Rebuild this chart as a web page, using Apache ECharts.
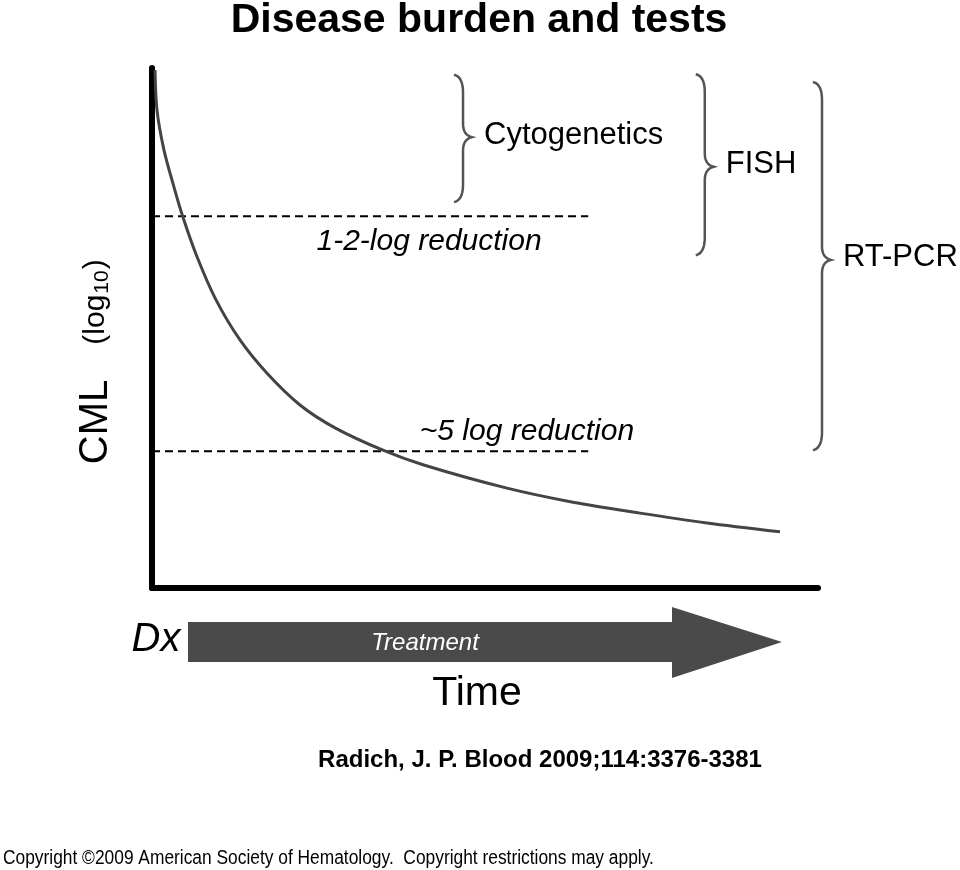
<!DOCTYPE html>
<html><head><meta charset="utf-8">
<script src="https://cdn.jsdelivr.net/npm/echarts@6/dist/echarts.min.js"></script>
<style>html,body{margin:0;padding:0;background:#fff}#c{width:960px;height:870px}</style>
</head><body><div id="c"></div><script>
// Disease burden curve (log10 units, schematic), time in arbitrary units
const curveX = [0.045,0.075,0.18,0.33,0.465,0.676,0.961,1.321,1.727,2.222,2.748,3.468,4.069,5.33,6.321,7.327,8.333,9.429];
const curveY = [9.96,9.19,8.42,7.71,7.13,6.37,5.54,4.77,4.13,3.52,3.08,2.65,2.37,1.92,1.65,1.44,1.25,1.08];
// Reduction thresholds
const thresholdNames = ['1-2-log reduction', '~5 log reduction'];
const thresholdY = [7.15, 2.63];
const thresholdEndX = [6.55, 6.55];
const thresholdLabelX = [4.16, 5.63];
const thresholdLabelY = [6.66, 3.0];
// Detection ranges of tests (braces)
const testNames = ['Cytogenetics', 'FISH', 'RT-PCR'];
const testX = [4.67, 8.30, 10.06];
const testTop = [9.87, 9.88, 9.73];
const testBottom = [7.42, 6.40, 2.65];
const testTip = [8.67, 8.10, 6.31];

const FONT = '"Liberation Sans", Arial, Helvetica, sans-serif';
const chart = echarts.init(document.getElementById('c'));

const series = [{
  type: 'line', data: curveX.map((x, i) => [x, curveY[i]]),
  smooth: 0.3, symbol: 'none',
  lineStyle: { color: '#444', width: 3 }, z: 3
}];
thresholdY.forEach((y, i) => {
  series.push({
    type: 'line', data: [[0, y], [thresholdEndX[i], y]], symbol: 'none',
    lineStyle: { color: '#000', width: 2, type: [8, 5] }, z: 2
  });
});

const axisStyle = { show: true, lineStyle: { color: '#000', width: 6 } };
chart.setOption({
  backgroundColor: '#fff',
  animation: false,
  grid: { left: 152, top: 68, right: 142, bottom: 282 },
  xAxis: { type: 'value', min: 0, max: 10, axisLine: axisStyle, axisTick: { show: false }, axisLabel: { show: false }, splitLine: { show: false } },
  yAxis: { type: 'value', min: 0, max: 10, axisLine: axisStyle, axisTick: { show: false }, axisLabel: { show: false }, splitLine: { show: false } },
  series: series
});

function px(x, y) { return chart.convertToPixel({ gridIndex: 0 }, [x, y]); }
function quad(p0, c, p1, out) {
  for (let k = 1; k <= 10; k++) {
    const t = k / 10, u = 1 - t;
    out.push([u * u * p0[0] + 2 * u * t * c[0] + t * t * p1[0], u * u * p0[1] + 2 * u * t * c[1] + t * t * p1[1]]);
  }
}

const graphic = [];
// title
graphic.push({ type: 'text', x: 479, y: 21, style: { text: 'Disease burden and tests', font: 'bold 41px ' + FONT, fill: '#000', align: 'center', verticalAlign: 'middle' } });
// threshold labels
thresholdNames.forEach((n, i) => {
  const p = px(thresholdLabelX[i], thresholdLabelY[i]);
  graphic.push({ type: 'text', x: p[0], y: p[1], style: { text: n, font: 'italic 30px ' + FONT, fill: '#000', align: 'center', verticalAlign: 'middle' } });
});
// braces
testNames.forEach((n, i) => {
  const t = px(testX[i], testTop[i]);
  const b = px(testX[i], testBottom[i]);
  const m = px(testX[i], testTip[i]);
  const x = t[0], y1 = t[1], y2 = b[1], ym = m[1], d = 9;
  const pts = [[x - d, y1]];
  quad([x - d, y1], [x, y1 + 2], [x, y1 + d * 2], pts);
  pts.push([x, ym - d * 1.5]);
  quad([x, ym - d * 1.5], [x, ym - 2], [x + d, ym], pts);
  quad([x + d, ym], [x, ym + 2], [x, ym + d * 1.5], pts);
  pts.push([x, y2 - d * 2]);
  quad([x, y2 - d * 2], [x, y2 - 2], [x - d, y2], pts);
  graphic.push({ type: 'polyline', shape: { points: pts }, style: { fill: null, stroke: '#555', lineWidth: 2.5 } });
  graphic.push({ type: 'text', x: x + d + 12, y: ym - 2, style: { text: n, font: '31px ' + FONT, fill: '#000', align: 'left', verticalAlign: 'middle' } });
});
// y axis name
graphic.push({ type: 'text', x: 96, y: 422, rotation: Math.PI / 2, style: { text: 'CML', font: '40px ' + FONT, fill: '#000', align: 'center', verticalAlign: 'middle' } });
graphic.push({ type: 'text', x: 96, y: 302, rotation: Math.PI / 2, style: { text: '(log{s|10})', font: '30px ' + FONT, fill: '#000', align: 'center', verticalAlign: 'middle', rich: { s: { fontSize: 21, fontFamily: FONT, fill: '#000', padding: [12, 1, 0, 1] } } } });
// treatment arrow
graphic.push({ type: 'polygon', shape: { points: [[188, 622], [672, 622], [672, 607], [782, 642], [672, 678], [672, 662], [188, 662]] }, style: { fill: '#4a4a4a' } });
graphic.push({ type: 'text', x: 425, y: 643, style: { text: 'Treatment', font: 'italic 24px ' + FONT, fill: '#fff', align: 'center', verticalAlign: 'middle' } });
graphic.push({ type: 'text', x: 156, y: 640, style: { text: 'Dx', font: 'italic 40px ' + FONT, fill: '#000', align: 'center', verticalAlign: 'middle' } });
graphic.push({ type: 'text', x: 477, y: 694, style: { text: 'Time', font: '41px ' + FONT, fill: '#000', align: 'center', verticalAlign: 'middle' } });
// citation
graphic.push({ type: 'text', x: 540, y: 760, style: { text: 'Radich, J. P. Blood 2009;114:3376-3381', font: 'bold 24px ' + FONT, fill: '#000', align: 'center', verticalAlign: 'middle' } });
graphic.push({ type: 'text', x: 3, y: 858, scaleX: 0.868, style: { text: 'Copyright \u00a92009 American Society of Hematology.  Copyright restrictions may apply.', font: '20px ' + FONT, fill: '#000', align: 'left', verticalAlign: 'middle' } });

chart.setOption({ graphic: graphic });
</script></body></html>
